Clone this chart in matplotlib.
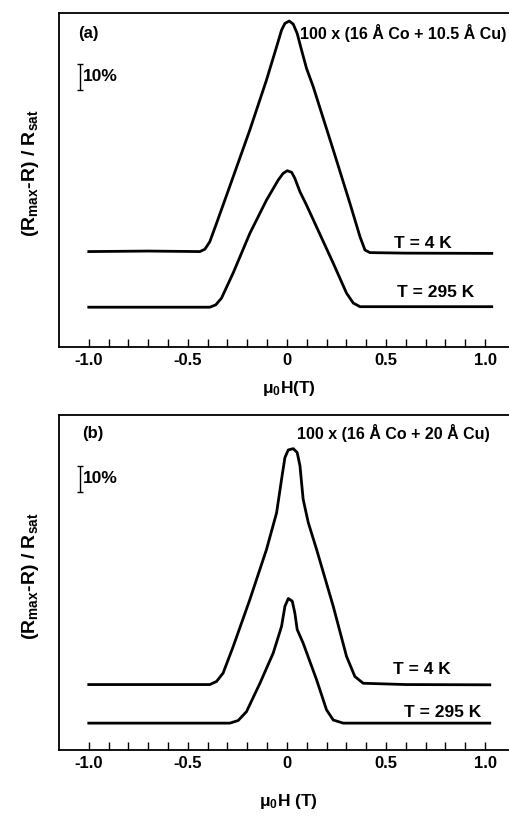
import matplotlib
matplotlib.use("Agg")
import matplotlib.pyplot as plt

plt.rcParams['font.family'] = ['Liberation Sans', 'DejaVu Sans']
plt.rcParams['font.weight'] = 'bold'
plt.rcParams['mathtext.default'] = 'regular'

# field values (T) and curves in % (baseline offsets included)
# (a) 100 x (16 A Co + 10.5 A Cu)
xa_4 = [-1.0, -0.7, -0.439, -0.414, -0.389, -0.355, -0.271, -0.187, -0.103, -0.052,
        -0.027, -0.010, 0.012, 0.032, 0.052, 0.074, 0.099, 0.133, 0.234, 0.318,
        0.369, 0.394, 0.419, 0.6, 1.034]
ya_4 = [36.7, 36.9, 36.7, 37.6, 40.5, 47.6, 65.5, 83.5, 102.7, 115.5,
        121.9, 124.5, 125.4, 124.2, 120.6, 114.2, 107.2, 100.1, 75.8, 55.3,
        42.4, 37.3, 36.3, 36.1, 36.0]
xa_295 = [-1.0, -0.7, -0.389, -0.359, -0.330, -0.271, -0.187, -0.103, -0.044, -0.019,
          0.002, 0.024, 0.040, 0.066, 0.099, 0.234, 0.301, 0.335, 0.369, 0.6, 1.034]
ya_295 = [15.3, 15.3, 15.3, 16.2, 18.8, 28.5, 43.7, 56.5, 64.2, 66.8,
          67.8, 67.2, 64.9, 59.7, 54.6, 32.2, 20.7, 16.9, 15.5, 15.5, 15.5]

# (b) 100 x (16 A Co + 20 A Cu)
xb_4 = [-1.0, -0.7, -0.389, -0.355, -0.322, -0.271, -0.187, -0.103, -0.052, -0.027,
        -0.010, 0.007, 0.032, 0.052, 0.066, 0.082, 0.108, 0.150, 0.234, 0.301,
        0.343, 0.385, 0.6, 1.024]
yb_4 = [25.1, 25.1, 25.1, 26.3, 29.5, 39.7, 57.7, 76.9, 91.0, 103.8,
        112.2, 115.1, 115.6, 114.1, 109.0, 96.2, 87.2, 76.9, 55.1, 35.9,
        28.2, 25.6, 25.1, 25.0]
xb_295 = [-1.0, -0.7, -0.288, -0.246, -0.204, -0.136, -0.069, -0.027, -0.010, 0.007,
          0.027, 0.040, 0.052, 0.082, 0.150, 0.200, 0.234, 0.284, 0.6, 1.024]
yb_295 = [10.3, 10.3, 10.3, 11.3, 14.7, 25.6, 37.2, 47.4, 55.1, 58.1,
          57.1, 52.6, 46.2, 41.0, 26.9, 15.4, 11.5, 10.3, 10.3, 10.3]

xticks = [-1.0, -0.5, 0.0, 0.5, 1.0]
xticklabels = ["-1.0", "-0.5", "0", "0.5", "1.0"]
minor = [i / 10 for i in range(-10, 11)]

fig = plt.figure(figsize=(5.09, 8.16), dpi=100)

panels = [
    dict(rect=[0.116, 0.5748, 0.884, 0.4093], xs=(xa_4, xa_295), ys=(ya_4, ya_295),
         tag="(a)", tag_xy=(0.042, 0.94), title="100 x (16 Å Co + 10.5 Å Cu)",
         title_xy=(0.536, 0.94), xlabel="μ$_0$H(T)",
         t4=(0.809, 0.311), t295=(0.836, 0.162), xlab_y=-0.095),
    dict(rect=[0.116, 0.0809, 0.884, 0.4105], xs=(xb_4, xb_295), ys=(yb_4, yb_295),
         tag="(b)", tag_xy=(0.051, 0.946), title="100 x (16 Å Co + 20 Å Cu)",
         title_xy=(0.529, 0.946), xlabel="μ$_0$H (T)",
         t4=(0.807, 0.239), t295=(0.853, 0.113), xlab_y=-0.125),
]

for p in panels:
    ax = fig.add_axes(p["rect"])
    for xx, yy in zip(p["xs"], p["ys"]):
        ax.plot(xx, yy, color="black", lw=2.0, solid_joinstyle="round")
    ax.set_xlim(-1.15, 1.121)
    ax.set_ylim(0, 128.5)
    ax.spines["right"].set_visible(False)
    for s in ["left", "top", "bottom"]:
        ax.spines[s].set_linewidth(1.3)
    ax.set_yticks([])
    ax.set_xticks(xticks)
    ax.set_xticklabels(xticklabels, fontsize=12, fontweight="bold")
    ax.set_xticks(minor, minor=True)
    ax.tick_params(axis="x", which="both", direction="in", length=6, width=1.0, pad=4)
    ax.text(p["tag_xy"][0], p["tag_xy"][1], p["tag"], transform=ax.transAxes,
            fontsize=12, va="center")
    ax.text(p["title_xy"][0], p["title_xy"][1], p["title"], transform=ax.transAxes,
            fontsize=11.5, va="center")
    # 10% scale bar
    ax.errorbar([-1.045], [104.0], yerr=[5.0], color="black", lw=1.0, capsize=2.5,
                capthick=1.0)
    ax.text(-1.03, 104.0, "10%", fontsize=12.5, va="center")
    ax.text(p["t4"][0], p["t4"][1], "T = 4 K", transform=ax.transAxes, fontsize=12.5,
            ha="center", va="center")
    ax.text(p["t295"][0], p["t295"][1], "T = 295 K", transform=ax.transAxes,
            fontsize=12.5, ha="center", va="center")
    ax.set_xlabel(p["xlabel"], fontsize=12.5, fontweight="bold")
    ax.xaxis.set_label_coords(0.51, p["xlab_y"])
    ax.set_ylabel("(R$_{max}$-R) / R$_{sat}$", fontsize=14, fontweight="bold")
    ax.yaxis.set_label_coords(-0.041, 0.52)

fig.savefig("out.png", dpi=100)
